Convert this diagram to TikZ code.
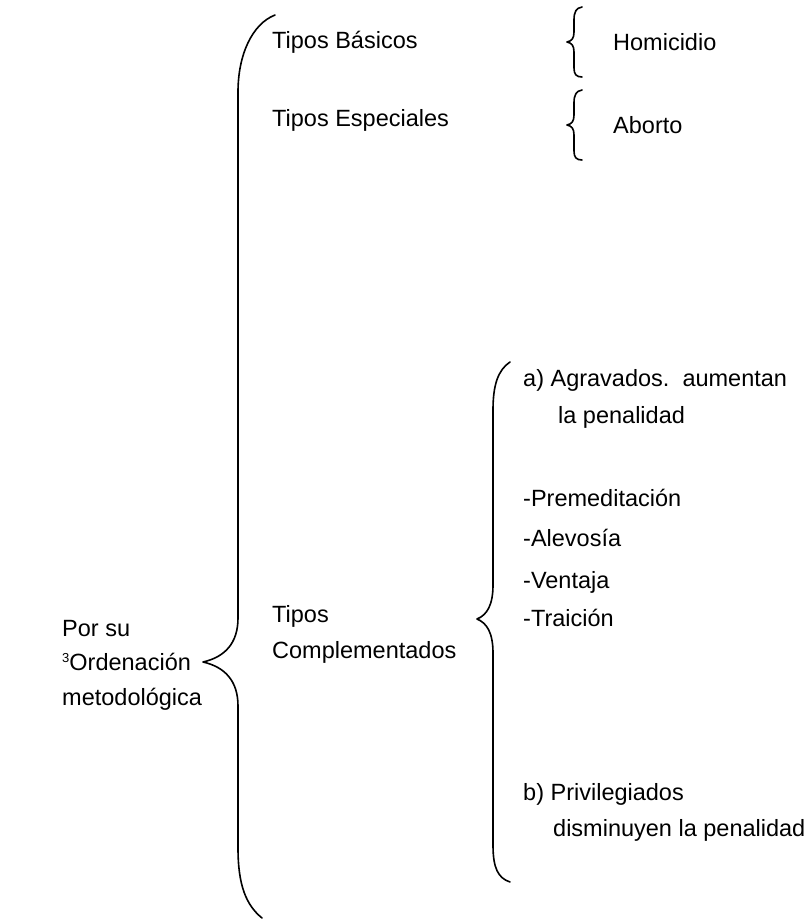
\documentclass[tikz,border=0pt]{standalone}
\usepackage{fontspec}
\setmainfont{Liberation Sans}
\begin{document}
\begin{tikzpicture}[x=1pt,y=-1pt,
  lbl/.style={anchor=base west,inner sep=0pt,font=\fontsize{23.5}{28}\selectfont},
  brace/.style={line width=1.6pt,line cap=round,line join=round}]
\useasboundingbox (0,0) rectangle (805,919);
% left labels
\node[lbl] (por) at (62,636) {Por su};
\node[lbl] (orden) at (62,670) {\raisebox{8pt}{\fontsize{13}{13}\selectfont 3}Ordenación};
\node[lbl] (metodo) at (62,705) {metodológica};
% big brace
\draw[brace] (275,15) .. controls (252,24) and (238,55) .. (238,92)
  -- (238,618) .. controls (238,643) and (225,657) .. (203,662)
  .. controls (225,667) and (238,681) .. (238,706)
  -- (238,848) .. controls (238,885) and (246,905) .. (262,918);
% top branch
\node[lbl] (basicos) at (272,48) {Tipos Básicos};
\node[lbl] (especiales) at (272,126) {Tipos Especiales};
\draw[brace] (582,7) .. controls (576,8) and (574,12) .. (574,20)
  -- (574,32) .. controls (574,38) and (572,41) .. (567,42)
  .. controls (572,43) and (574,46) .. (574,52)
  -- (574,68) .. controls (574,74) and (576,77) .. (582,77);
\draw[brace] (582,90) .. controls (576,91) and (574,95) .. (574,103)
  -- (574,115) .. controls (574,121) and (572,124) .. (567,125)
  .. controls (572,126) and (574,129) .. (574,135)
  -- (574,151) .. controls (574,157) and (576,160) .. (582,160);
\node[lbl] (homicidio) at (613,50) {Homicidio};
\node[lbl] (aborto) at (613,133) {Aborto};
% complementados
\node[lbl] (tipos) at (272,622) {Tipos};
\node[lbl] (complem) at (272,658) {Complementados};
\draw[brace] (510,362) .. controls (498,370) and (493,385) .. (493,410)
  -- (493,585) .. controls (493,605) and (487,615) .. (477,619)
  .. controls (487,623) and (493,633) .. (493,653)
  -- (493,845) .. controls (493,868) and (498,878) .. (510,882);
\node[lbl] (agrav) at (523,386) {a) Agravados.\ \ aumentan};
\node[lbl] (pen1) at (558,423) {la penalidad};
\node[lbl] (preme) at (523,506) {-Premeditación};
\node[lbl] (alev) at (523,546) {-Alevosía};
\node[lbl] (vent) at (523,588) {-Ventaja};
\node[lbl] (trai) at (523,626) {-Traición};
\node[lbl] (priv) at (523,800) {b) Privilegiados};
\node[lbl] (pen2) at (553,836) {disminuyen la penalidad};
\end{tikzpicture}
\end{document}
